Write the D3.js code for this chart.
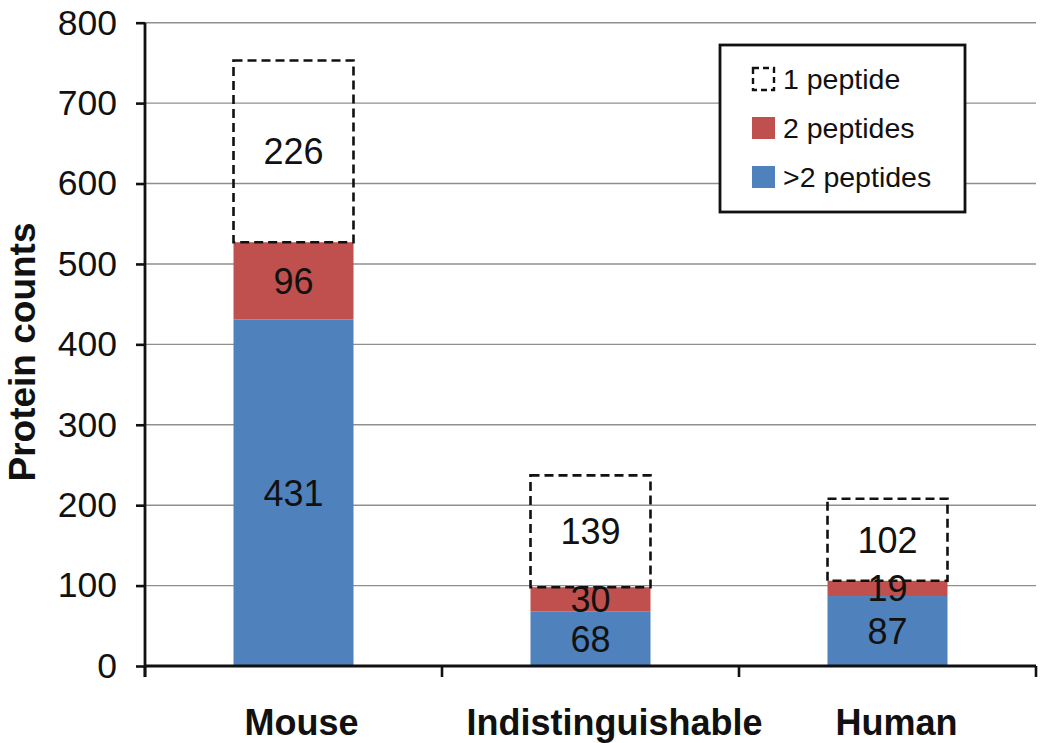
<!DOCTYPE html>
<html>
<head>
<meta charset="utf-8">
<script src="https://cdn.jsdelivr.net/npm/d3@7"></script>
<style>
  html, body { margin: 0; padding: 0; background: #fff; }
  svg { display: block; font-family: 'Liberation Sans', Arial, Helvetica, sans-serif; }
</style>
</head>
<body>
<svg id="chart" width="1050" height="743"></svg>
<script>
// ---- data ----
const categories = ["Mouse", "Indistinguishable", "Human"];
const moreThanTwo = [431, 68, 87];   // >2 peptides
const twoPeptides = [96, 30, 19];    // 2 peptides
const onePeptide = [226, 139, 102];  // 1 peptide (dashed)
const yTicks = [0, 100, 200, 300, 400, 500, 600, 700, 800];
const seriesNames = ["1 peptide", "2 peptides", ">2 peptides"];
const yTitle = "Protein counts";

(function () {
// ---- layout ----
const svg = d3.select("#chart");
const pLeft = 145, pRight = 1036, pTop = 22.7, pBottom = 666;
const colors = { blue: "#4F81BD", red: "#C0504D" };
const font = "'Liberation Sans', Arial, Helvetica, sans-serif";
const labelShift = [8, 24, 9]; // category label horizontal nudges (px)

const y = d3.scaleLinear().domain([0, 800]).range([pBottom, pTop]);
const x = d3.scaleBand().domain(categories).range([pLeft, pRight])
  .paddingInner(0.596).paddingOuter(0.298);

// gridlines
svg.append("g").selectAll("line").data(yTicks.filter(d => d > 0)).join("line")
  .attr("x1", pLeft).attr("x2", pRight)
  .attr("y1", d => y(d)).attr("y2", d => y(d))
  .attr("stroke", "#8f8f8f").attr("stroke-width", 1.4);

// stacked data
const rows = categories.map((c, i) => ({
  cat: c,
  segs: [
    { key: ">2", v0: 0, v1: moreThanTwo[i], val: moreThanTwo[i], fill: colors.blue },
    { key: "2", v0: moreThanTwo[i], v1: moreThanTwo[i] + twoPeptides[i], val: twoPeptides[i], fill: colors.red },
    { key: "1", v0: moreThanTwo[i] + twoPeptides[i], v1: moreThanTwo[i] + twoPeptides[i] + onePeptide[i], val: onePeptide[i], fill: "none" }
  ]
}));

const barG = svg.append("g");
rows.forEach(r => {
  const g = barG.append("g");
  g.selectAll("rect.solid").data(r.segs.filter(s => s.fill !== "none")).join("rect")
    .attr("class", "solid")
    .attr("x", x(r.cat)).attr("width", x.bandwidth())
    .attr("y", s => y(s.v1)).attr("height", s => y(s.v0) - y(s.v1))
    .attr("fill", s => s.fill);
  g.selectAll("rect.dash").data(r.segs.filter(s => s.fill === "none")).join("rect")
    .attr("class", "dash")
    .attr("x", x(r.cat)).attr("width", x.bandwidth())
    .attr("y", s => y(s.v1)).attr("height", s => y(s.v0) - y(s.v1))
    .attr("fill", "none").attr("stroke", "#111").attr("stroke-width", 2.6)
    .attr("stroke-dasharray", "9,5");
  g.selectAll("text").data(r.segs).join("text")
    .attr("x", x(r.cat) + x.bandwidth() / 2)
    .attr("y", s => y((s.v0 + s.v1) / 2))
    .attr("dy", "0.36em")
    .attr("text-anchor", "middle")
    .attr("font-size", 36)
    .attr("fill", "#111")
    .text(s => s.val);
});

// y axis
const yAxis = d3.axisLeft(y).tickValues(yTicks).tickSize(9).tickPadding(19).tickSizeOuter(0);
const yg = svg.append("g").attr("transform", `translate(${pLeft},0)`).call(yAxis);
yg.select(".domain").remove();
yg.selectAll(".tick line").attr("stroke", "#111").attr("stroke-width", 2.6);
yg.selectAll(".tick text").attr("font-size", 35.5).attr("fill", "#111").attr("font-family", font);
svg.append("line").attr("x1", pLeft).attr("x2", pLeft).attr("y1", pTop).attr("y2", pBottom + 11)
  .attr("stroke", "#111").attr("stroke-width", 2.8);

// x axis
svg.append("line").attr("x1", pLeft).attr("x2", pRight).attr("y1", pBottom).attr("y2", pBottom)
  .attr("stroke", "#111").attr("stroke-width", 2.8);
const bounds = categories.map(c => x(c) - x.step() * x.paddingInner() / 2).concat([pRight]);
svg.append("g").selectAll("line").data(bounds).join("line")
  .attr("x1", d => d).attr("x2", d => d).attr("y1", pBottom).attr("y2", pBottom + 11)
  .attr("stroke", "#111").attr("stroke-width", 2.6);
svg.append("g").selectAll("text").data(categories).join("text")
  .attr("x", (d, i) => x(d) + x.bandwidth() / 2 + labelShift[i]).attr("y", 735)
  .attr("text-anchor", "middle").attr("font-size", 36).attr("font-weight", "bold")
  .attr("fill", "#111").text(d => d);

// y title
svg.append("text").attr("transform", "translate(35,352) rotate(-90)")
  .attr("text-anchor", "middle").attr("font-size", 37).attr("font-weight", "bold")
  .attr("fill", "#111").text(yTitle);

// legend
const lg = svg.append("g");
lg.append("rect").attr("x", 720).attr("y", 45).attr("width", 245).attr("height", 167)
  .attr("fill", "#fff").attr("stroke", "#111").attr("stroke-width", 2.8);
const legendItems = [
  { name: seriesNames[0], fill: "none" },
  { name: seriesNames[1], fill: colors.red },
  { name: seriesNames[2], fill: colors.blue }
];
legendItems.forEach((it, i) => {
  const cy = 79 + i * 49;
  if (it.fill === "none") {
    lg.append("rect").attr("x", 753).attr("y", cy - 11).attr("width", 21).attr("height", 22)
      .attr("fill", "none").attr("stroke", "#111").attr("stroke-width", 2.4)
      .attr("stroke-dasharray", "6,4");
  } else {
    lg.append("rect").attr("x", 752).attr("y", cy - 11).attr("width", 23).attr("height", 22)
      .attr("fill", it.fill);
  }
  lg.append("text").attr("x", 783).attr("y", cy).attr("dy", "0.35em")
    .attr("font-size", 28.5).attr("fill", "#111").text(it.name);
});
})();
</script>
</body>
</html>
